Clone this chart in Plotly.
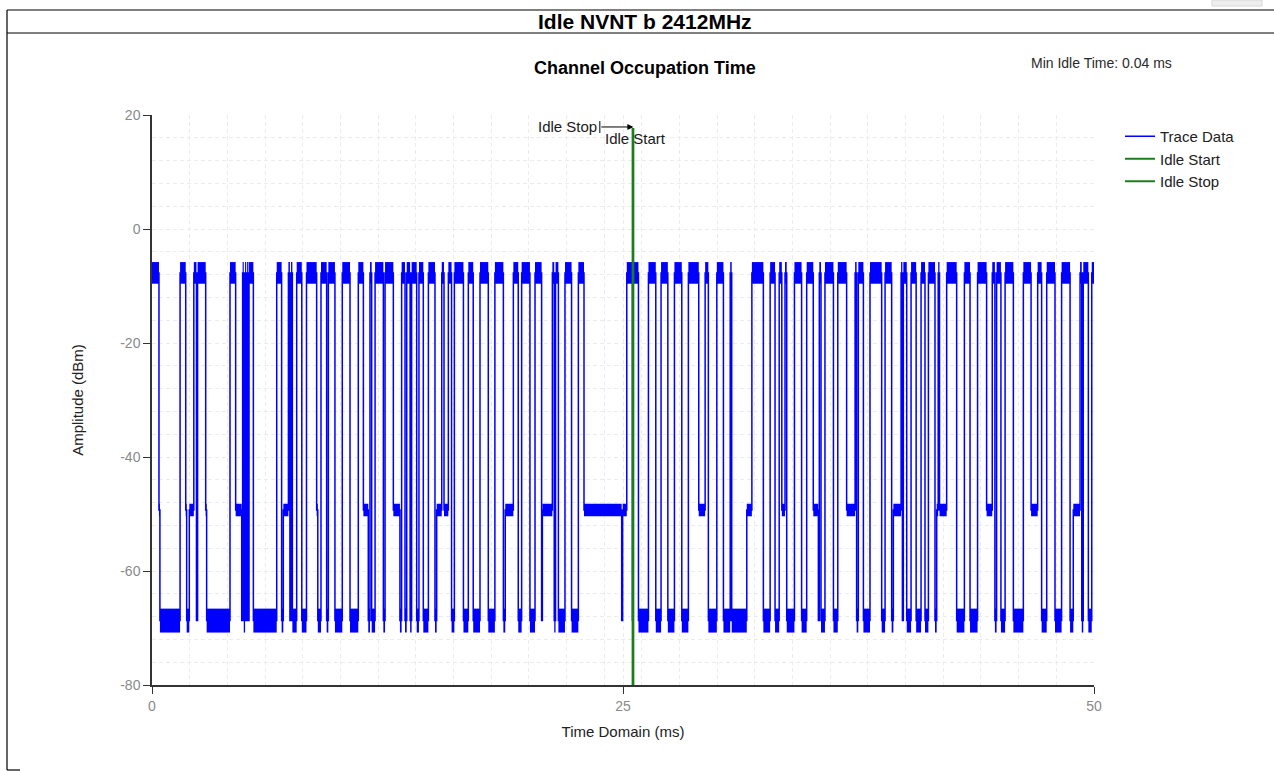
import plotly.graph_objects as go

# ---------------- data ----------------
# Trace: contiguous segments, start time (ms) and level class
seg_start = [0.00, 0.37, 0.42, 1.49, 1.79, 1.84, 1.98, 2.22, 2.36, 2.42, 2.85, 2.90,
             4.14, 4.44, 4.76, 4.81, 4.87, 4.94, 5.00, 5.05, 5.12, 5.15, 5.38, 6.62,
             6.88, 6.97, 7.24, 7.32, 7.38, 7.45, 7.68, 7.95, 8.20, 8.74, 8.80, 8.97,
             9.27, 9.36, 9.71, 10.10, 10.51, 10.95, 11.22, 11.48, 11.57, 11.66, 11.84,
             12.28, 12.37, 12.81, 13.16, 13.25, 13.43, 13.52, 13.70, 13.78, 14.05,
             14.17, 14.40, 14.67, 15.02, 15.11, 15.38, 15.50, 15.73, 15.90, 16.05,
             16.53, 16.79, 17.05, 17.41, 17.85, 18.20, 18.65, 18.75, 19.18, 19.44,
             19.62, 20.06, 20.33, 20.68, 20.72, 21.25, 21.35, 21.42, 21.57, 21.92,
             22.27, 22.63, 22.93, 24.93, 24.98, 25.20, 25.50, 25.54, 25.82, 26.35,
             26.74, 27.02, 27.38, 27.73, 28.12, 28.47, 29.02, 29.36, 29.53, 29.98,
             30.33, 30.69, 30.77, 31.57, 31.84, 32.45, 32.81, 33.07, 33.29, 33.43,
             33.60, 33.69, 34.10, 34.48, 34.75, 35.10, 35.37, 35.42, 35.51, 35.72,
             36.17, 36.40, 36.87, 37.32, 37.40, 37.49, 37.76, 38.11, 38.73, 38.91,
             39.26, 39.35, 39.76, 39.83, 39.88, 40.06, 40.29, 40.56, 40.82, 41.03,
             41.21, 41.56, 41.65, 41.73, 41.80, 42.18, 42.71, 43.12, 43.42, 43.82,
             44.30, 44.60, 44.74, 44.83, 45.06, 45.28, 45.72, 46.25, 46.66, 47.01,
             47.22, 47.49, 47.93, 48.28, 48.73, 48.90, 49.26, 49.35, 49.43, 49.70,
             49.88]
seg_level = ['H', 'M', 'L', 'H', 'M', 'L', 'M', 'H', 'L', 'H', 'M', 'L',
             'H', 'M', 'L', 'H', 'L', 'H', 'L', 'H', 'L', 'H', 'L', 'H',
             'L', 'M', 'H', 'L', 'H', 'L', 'H', 'L', 'H', 'M', 'L', 'H',
             'L', 'H', 'L', 'H', 'L', 'H', 'M', 'L', 'H', 'L', 'H',
             'L', 'H', 'M', 'L', 'H', 'L', 'H', 'L', 'H', 'L',
             'H', 'L', 'H', 'L', 'M', 'H', 'M', 'H', 'L', 'H',
             'L', 'H', 'L', 'H', 'L', 'H', 'L', 'M', 'H', 'L',
             'H', 'L', 'H', 'L', 'M', 'H', 'L', 'H', 'L', 'H',
             'L', 'H', 'M', 'L', 'M', 'H', 'L', 'H', 'L', 'H',
             'L', 'H', 'L', 'H', 'L', 'H', 'M', 'H', 'L', 'H',
             'L', 'H', 'L', 'M', 'H', 'L', 'H', 'L', 'H', 'M',
             'H', 'L', 'H', 'L', 'H', 'M', 'L', 'H', 'L', 'H',
             'L', 'H', 'M', 'H', 'L', 'H', 'L', 'H', 'L', 'H',
             'L', 'M', 'H', 'L', 'H', 'L', 'H', 'L', 'H', 'L',
             'H', 'L', 'M', 'H', 'M', 'H', 'L', 'H', 'L', 'H',
             'M', 'H', 'L', 'H', 'L', 'H', 'L', 'H', 'M', 'H',
             'L', 'H', 'L', 'H', 'L', 'M', 'H', 'L', 'H', 'L',
             'H']
trace_end = 50.0

# amplitude band (dBm) of each level class: (low edge, high edge)
level_band = {'H': (-9.6, -5.8), 'M': (-50.4, -48.2), 'L': (-70.8, -66.6)}

idle_stop_ms = 25.51
idle_start_ms = 25.55
idle_line_top = 17.7
min_idle_text = "Min Idle Time: 0.04 ms"

x_ticks = [0, 25, 50]
y_ticks = [20, 0, -20, -40, -60, -80]
y_tick_text = ['20', '0', '-20', '-40', '-60', '-80']

# ---------------- layout geometry ----------------
L, R, T, B = 152, 1094, 115, 685
Y_RANGE = (-80, 20)
PX_PER_DB = (B - T) / (Y_RANGE[1] - Y_RANGE[0])

def px(x):
    return (x - L) / (R - L)
def py(y):
    return (B - y) / (B - T)

# ---------------- build trace geometry ----------------
seg_end = seg_start[1:] + [trace_end]
band_lines = {k: ([], []) for k in level_band}
step_x, step_y = [], []
for t0, t1, lv in zip(seg_start, seg_end, seg_level):
    lo, hi = level_band[lv]
    mid = (lo + hi) / 2
    bx, by = band_lines[lv]
    bx += [t0, t1, None]
    by += [mid, mid, None]
    step_x += [t0, t1]
    step_y += [mid, mid]

BLUE = '#0000ff'
GREEN = '#1a7f1a'
FONT = 'Liberation Sans, Arial, sans-serif'

fig = go.Figure()
# noise band of each level, drawn as a thick stroke whose thickness equals the band height
for lv, (bx, by) in band_lines.items():
    lo, hi = level_band[lv]
    fig.add_trace(go.Scatter(x=bx, y=by, mode='lines',
                             line=dict(color=BLUE, width=(hi - lo) * PX_PER_DB),
                             showlegend=False, hoverinfo='skip'))
fig.add_trace(go.Scatter(x=step_x, y=step_y, mode='lines', name='Trace Data',
                         line=dict(color=BLUE, width=1.5)))
fig.add_trace(go.Scatter(x=[idle_start_ms, idle_start_ms], y=[-80, idle_line_top],
                         mode='lines', name='Idle Start', line=dict(color=GREEN, width=2)))
fig.add_trace(go.Scatter(x=[idle_stop_ms, idle_stop_ms], y=[-80, idle_line_top],
                         mode='lines', name='Idle Stop', line=dict(color=GREEN, width=2)))

frame = dict(color='#000000', width=1.2)
shapes = [
    dict(type='line', xref='paper', yref='paper', x0=px(7), x1=px(1280), y0=py(10), y1=py(10), line=frame),
    dict(type='line', xref='paper', yref='paper', x0=px(7), x1=px(1280), y0=py(33), y1=py(33), line=frame),
    dict(type='line', xref='paper', yref='paper', x0=px(7), x1=px(7), y0=py(10), y1=py(770), line=frame),
    dict(type='line', xref='paper', yref='paper', x0=px(7), x1=px(20), y0=py(770), y1=py(770), line=frame),
    dict(type='rect', xref='paper', yref='paper', x0=px(1212), x1=px(1262), y0=py(0), y1=py(6),
         line=dict(color='#d8d8d8', width=1), fillcolor='#eeeeee'),
    # small stop tick for annotation arrow
    dict(type='line', xref='x', yref='paper', x0=23.77, x1=23.77, y0=py(121), y1=py(133),
         line=dict(color='#000000', width=1)),
]

annotations = [
    dict(text='<b>Idle NVNT b 2412MHz</b>', xref='paper', yref='paper', x=px(645), y=py(22),
         showarrow=False, font=dict(size=21, color='#000000', family=FONT), xanchor='center', yanchor='middle'),
    dict(text='<b>Channel Occupation Time</b>', xref='paper', yref='paper', x=px(645), y=py(68),
         showarrow=False, font=dict(size=18, color='#000000', family=FONT), xanchor='center', yanchor='middle'),
    dict(text=min_idle_text, xref='paper', yref='paper', x=px(1029), y=py(63),
         showarrow=False, font=dict(size=14, color='#2a2a2a', family=FONT), xanchor='left', yanchor='middle'),
    dict(text='', x=idle_start_ms, y=17.9, ax=23.77, ay=17.9, xref='x', yref='y', axref='x', ayref='y',
         showarrow=True, arrowhead=2, arrowsize=1.2, arrowwidth=1, arrowcolor='#000000', standoff=0),
    dict(text='Idle Stop', xref='x', yref='paper', x=23.72, y=py(127), showarrow=False,
         font=dict(size=15, color='#1a1a1a', family=FONT), xanchor='right', yanchor='middle'),
    dict(text='Idle Start', xref='x', yref='paper', x=23.95, y=py(138), showarrow=False,
         font=dict(size=15, color='#1a1a1a', family=FONT), xanchor='left', yanchor='middle'),
]

grid_minor = dict(showgrid=True, gridcolor='#ececec', griddash='4px,3px', gridwidth=1)

fig.update_layout(
    width=1274, height=771,
    margin=dict(l=L, r=1274 - R, t=T, b=771 - B, autoexpand=False),
    paper_bgcolor='#ffffff', plot_bgcolor='#ffffff',
    font=dict(family=FONT, size=13, color='#222222'),
    showlegend=True,
    legend=dict(x=px(1120), y=py(120), xanchor='left', yanchor='top',
                font=dict(size=15, color='#222222', family=FONT),
                bgcolor='rgba(0,0,0,0)', tracegroupgap=0, itemwidth=30),
    shapes=shapes, annotations=annotations,
    xaxis=dict(range=[0, 50], tickvals=x_ticks, ticks='outside', ticklen=7, tickcolor='#333333',
               showline=True, linecolor='#333333', linewidth=1.5, zeroline=False,
               showgrid=True, gridcolor='#ececec', griddash='4px,3px',
               minor=dict(dtick=2, tick0=0, **grid_minor),
               tickfont=dict(size=14, color='#8a8a8a', family=FONT),
               title=dict(text='Time Domain (ms)', standoff=14,
                          font=dict(size=15, color='#222222', family=FONT))),
    yaxis=dict(range=list(Y_RANGE), tickvals=y_ticks, ticktext=y_tick_text, ticks='outside', ticklen=7,
               tickcolor='#333333',
               showline=True, linecolor='#333333', linewidth=1.5, zeroline=False,
               showgrid=True, gridcolor='#ececec', griddash='4px,3px',
               minor=dict(dtick=4, tick0=0, **grid_minor),
               tickfont=dict(size=14, color='#8a8a8a', family=FONT),
               title=dict(text='Amplitude (dBm)', standoff=33,
                          font=dict(size=15, color='#222222', family=FONT))),
)

fig.write_html("out.html")
